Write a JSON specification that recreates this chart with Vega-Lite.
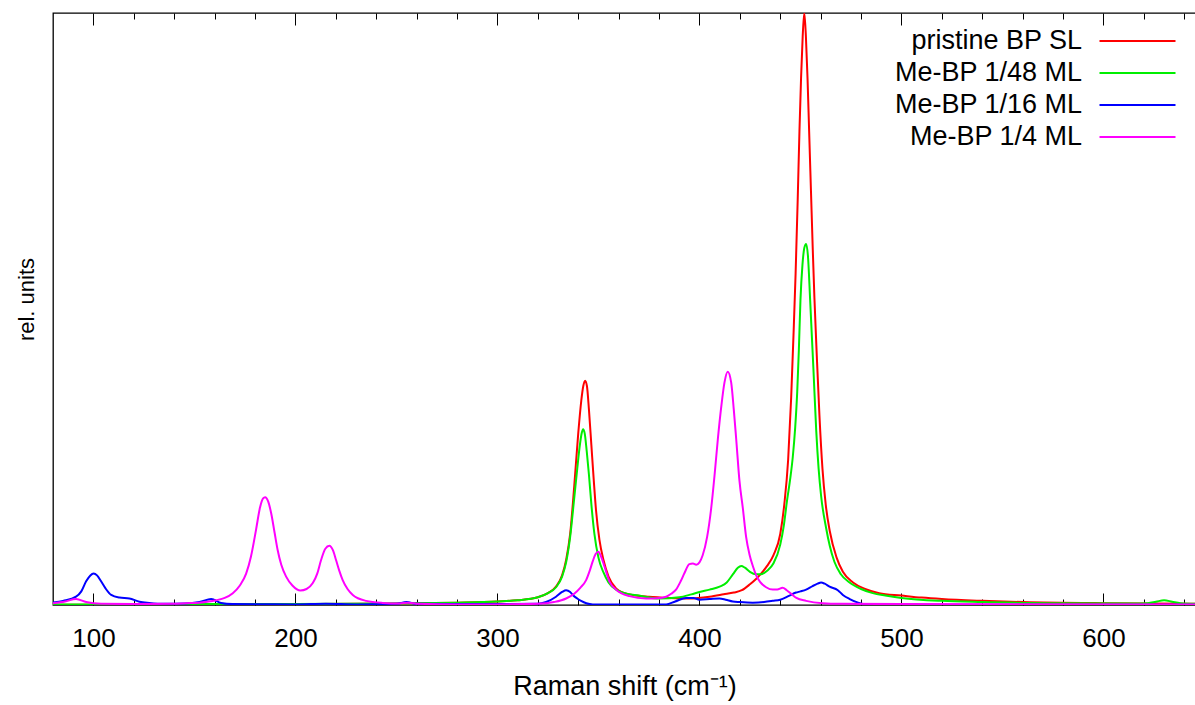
{
  "$schema": "https://vega.github.io/schema/vega-lite/v6.json",
  "width": 1143,
  "height": 592,
  "autosize": {"type": "none"},
  "padding": {"left": 53, "top": 13, "right": 0, "bottom": 100},
  "background": "white",
  "config": {
    "font": "Liberation Sans",
    "view": {"stroke": "#000", "strokeWidth": 1.3},
    "axis": {"grid": false, "domain": false}
  },
  "datasets": {
    "spectra": [
      {"series":"pristine BP SL","shift":80,"intensity":0.05},
      {"series":"pristine BP SL","shift":100,"intensity":0.05},
      {"series":"pristine BP SL","shift":150,"intensity":0.1},
      {"series":"pristine BP SL","shift":200,"intensity":0.15},
      {"series":"pristine BP SL","shift":250,"intensity":0.25},
      {"series":"pristine BP SL","shift":280,"intensity":0.4},
      {"series":"pristine BP SL","shift":300,"intensity":0.6},
      {"series":"pristine BP SL","shift":310,"intensity":0.8},
      {"series":"pristine BP SL","shift":320,"intensity":1.3},
      {"series":"pristine BP SL","shift":325,"intensity":2.0},
      {"series":"pristine BP SL","shift":329,"intensity":3.1},
      {"series":"pristine BP SL","shift":332,"intensity":5.0},
      {"series":"pristine BP SL","shift":334,"intensity":7.6},
      {"series":"pristine BP SL","shift":336,"intensity":12},
      {"series":"pristine BP SL","shift":338,"intensity":20},
      {"series":"pristine BP SL","shift":340,"intensity":29},
      {"series":"pristine BP SL","shift":341.5,"intensity":34.5},
      {"series":"pristine BP SL","shift":342.5,"intensity":37},
      {"series":"pristine BP SL","shift":343.4,"intensity":37.9},
      {"series":"pristine BP SL","shift":344.3,"intensity":37},
      {"series":"pristine BP SL","shift":345.3,"intensity":33},
      {"series":"pristine BP SL","shift":346.5,"intensity":27},
      {"series":"pristine BP SL","shift":347.7,"intensity":21},
      {"series":"pristine BP SL","shift":348.8,"intensity":16},
      {"series":"pristine BP SL","shift":350.5,"intensity":11},
      {"series":"pristine BP SL","shift":352.5,"intensity":7.6},
      {"series":"pristine BP SL","shift":355,"intensity":4.8},
      {"series":"pristine BP SL","shift":358.7,"intensity":2.8},
      {"series":"pristine BP SL","shift":363,"intensity":2.0},
      {"series":"pristine BP SL","shift":367,"intensity":1.7},
      {"series":"pristine BP SL","shift":375,"intensity":1.4},
      {"series":"pristine BP SL","shift":385,"intensity":1.2},
      {"series":"pristine BP SL","shift":395,"intensity":1.1},
      {"series":"pristine BP SL","shift":405,"intensity":1.4},
      {"series":"pristine BP SL","shift":412,"intensity":1.8},
      {"series":"pristine BP SL","shift":417,"intensity":2.1},
      {"series":"pristine BP SL","shift":421,"intensity":2.5},
      {"series":"pristine BP SL","shift":425,"intensity":3.5},
      {"series":"pristine BP SL","shift":428,"intensity":4.4},
      {"series":"pristine BP SL","shift":430.5,"intensity":5.3},
      {"series":"pristine BP SL","shift":433.5,"intensity":6.6},
      {"series":"pristine BP SL","shift":436.6,"intensity":8.4},
      {"series":"pristine BP SL","shift":440,"intensity":12},
      {"series":"pristine BP SL","shift":442,"intensity":17},
      {"series":"pristine BP SL","shift":443.9,"intensity":24.5},
      {"series":"pristine BP SL","shift":445.4,"intensity":35},
      {"series":"pristine BP SL","shift":446.6,"intensity":46},
      {"series":"pristine BP SL","shift":447.6,"intensity":56},
      {"series":"pristine BP SL","shift":448.6,"intensity":68},
      {"series":"pristine BP SL","shift":449.5,"intensity":80},
      {"series":"pristine BP SL","shift":450.3,"intensity":89},
      {"series":"pristine BP SL","shift":451.1,"intensity":96},
      {"series":"pristine BP SL","shift":451.9,"intensity":100},
      {"series":"pristine BP SL","shift":452.7,"intensity":96},
      {"series":"pristine BP SL","shift":453.5,"intensity":89},
      {"series":"pristine BP SL","shift":454.3,"intensity":80},
      {"series":"pristine BP SL","shift":455.2,"intensity":70},
      {"series":"pristine BP SL","shift":456.1,"intensity":60},
      {"series":"pristine BP SL","shift":456.9,"intensity":52},
      {"series":"pristine BP SL","shift":458.1,"intensity":42},
      {"series":"pristine BP SL","shift":459.4,"intensity":32},
      {"series":"pristine BP SL","shift":460.9,"intensity":23},
      {"series":"pristine BP SL","shift":462.5,"intensity":17},
      {"series":"pristine BP SL","shift":464.5,"intensity":12.5},
      {"series":"pristine BP SL","shift":467.9,"intensity":8},
      {"series":"pristine BP SL","shift":471,"intensity":5.6},
      {"series":"pristine BP SL","shift":476,"intensity":3.8},
      {"series":"pristine BP SL","shift":482,"intensity":2.7},
      {"series":"pristine BP SL","shift":489,"intensity":2.0},
      {"series":"pristine BP SL","shift":500,"intensity":1.6},
      {"series":"pristine BP SL","shift":510,"intensity":1.25},
      {"series":"pristine BP SL","shift":520,"intensity":1.0},
      {"series":"pristine BP SL","shift":540,"intensity":0.7},
      {"series":"pristine BP SL","shift":560,"intensity":0.5},
      {"series":"pristine BP SL","shift":600,"intensity":0.3},
      {"series":"pristine BP SL","shift":645.8,"intensity":0.2},

      {"series":"Me-BP 1/48 ML","shift":80,"intensity":0.1},
      {"series":"Me-BP 1/48 ML","shift":100,"intensity":0.1},
      {"series":"Me-BP 1/48 ML","shift":150,"intensity":0.15},
      {"series":"Me-BP 1/48 ML","shift":200,"intensity":0.15},
      {"series":"Me-BP 1/48 ML","shift":250,"intensity":0.25},
      {"series":"Me-BP 1/48 ML","shift":280,"intensity":0.4},
      {"series":"Me-BP 1/48 ML","shift":300,"intensity":0.6},
      {"series":"Me-BP 1/48 ML","shift":310,"intensity":0.8},
      {"series":"Me-BP 1/48 ML","shift":320,"intensity":1.3},
      {"series":"Me-BP 1/48 ML","shift":325,"intensity":2.0},
      {"series":"Me-BP 1/48 ML","shift":329,"intensity":3.0},
      {"series":"Me-BP 1/48 ML","shift":332,"intensity":4.8},
      {"series":"Me-BP 1/48 ML","shift":334,"intensity":7.2},
      {"series":"Me-BP 1/48 ML","shift":336,"intensity":11.5},
      {"series":"Me-BP 1/48 ML","shift":338,"intensity":18},
      {"series":"Me-BP 1/48 ML","shift":339.5,"intensity":23},
      {"series":"Me-BP 1/48 ML","shift":340.8,"intensity":27},
      {"series":"Me-BP 1/48 ML","shift":341.7,"intensity":29},
      {"series":"Me-BP 1/48 ML","shift":342.4,"intensity":29.7},
      {"series":"Me-BP 1/48 ML","shift":343.2,"intensity":29},
      {"series":"Me-BP 1/48 ML","shift":344.2,"intensity":26},
      {"series":"Me-BP 1/48 ML","shift":345.3,"intensity":22},
      {"series":"Me-BP 1/48 ML","shift":346.5,"intensity":17},
      {"series":"Me-BP 1/48 ML","shift":348,"intensity":12},
      {"series":"Me-BP 1/48 ML","shift":350,"intensity":8},
      {"series":"Me-BP 1/48 ML","shift":352.5,"intensity":5.5},
      {"series":"Me-BP 1/48 ML","shift":355,"intensity":3.8},
      {"series":"Me-BP 1/48 ML","shift":358.7,"intensity":2.6},
      {"series":"Me-BP 1/48 ML","shift":363,"intensity":2.0},
      {"series":"Me-BP 1/48 ML","shift":370,"intensity":1.6},
      {"series":"Me-BP 1/48 ML","shift":380,"intensity":1.1},
      {"series":"Me-BP 1/48 ML","shift":390,"intensity":1.3},
      {"series":"Me-BP 1/48 ML","shift":396,"intensity":1.8},
      {"series":"Me-BP 1/48 ML","shift":400,"intensity":2.2},
      {"series":"Me-BP 1/48 ML","shift":405,"intensity":2.6},
      {"series":"Me-BP 1/48 ML","shift":410,"intensity":3.1},
      {"series":"Me-BP 1/48 ML","shift":413.5,"intensity":3.8},
      {"series":"Me-BP 1/48 ML","shift":416.6,"intensity":5.2},
      {"series":"Me-BP 1/48 ML","shift":419,"intensity":6.3},
      {"series":"Me-BP 1/48 ML","shift":420.7,"intensity":6.6},
      {"series":"Me-BP 1/48 ML","shift":422.5,"intensity":6.3},
      {"series":"Me-BP 1/48 ML","shift":425,"intensity":5.6},
      {"series":"Me-BP 1/48 ML","shift":428,"intensity":5.2},
      {"series":"Me-BP 1/48 ML","shift":430.5,"intensity":5.2},
      {"series":"Me-BP 1/48 ML","shift":433.5,"intensity":5.8},
      {"series":"Me-BP 1/48 ML","shift":436.6,"intensity":7.0},
      {"series":"Me-BP 1/48 ML","shift":440,"intensity":10.2},
      {"series":"Me-BP 1/48 ML","shift":441.8,"intensity":13.5},
      {"series":"Me-BP 1/48 ML","shift":443.3,"intensity":17.5},
      {"series":"Me-BP 1/48 ML","shift":444.8,"intensity":21},
      {"series":"Me-BP 1/48 ML","shift":446.2,"intensity":25},
      {"series":"Me-BP 1/48 ML","shift":447.4,"intensity":30},
      {"series":"Me-BP 1/48 ML","shift":448.4,"intensity":36},
      {"series":"Me-BP 1/48 ML","shift":449.2,"intensity":43},
      {"series":"Me-BP 1/48 ML","shift":450,"intensity":51.5},
      {"series":"Me-BP 1/48 ML","shift":451,"intensity":57.5},
      {"series":"Me-BP 1/48 ML","shift":451.9,"intensity":60.3},
      {"series":"Me-BP 1/48 ML","shift":452.8,"intensity":61},
      {"series":"Me-BP 1/48 ML","shift":453.7,"intensity":59},
      {"series":"Me-BP 1/48 ML","shift":454.8,"intensity":51.5},
      {"series":"Me-BP 1/48 ML","shift":455.7,"intensity":45},
      {"series":"Me-BP 1/48 ML","shift":456.4,"intensity":40},
      {"series":"Me-BP 1/48 ML","shift":457.8,"intensity":29.5},
      {"series":"Me-BP 1/48 ML","shift":459,"intensity":23},
      {"series":"Me-BP 1/48 ML","shift":460.2,"intensity":18.5},
      {"series":"Me-BP 1/48 ML","shift":462.7,"intensity":13},
      {"series":"Me-BP 1/48 ML","shift":464.5,"intensity":10},
      {"series":"Me-BP 1/48 ML","shift":466.8,"intensity":7.3},
      {"series":"Me-BP 1/48 ML","shift":470,"intensity":5.2},
      {"series":"Me-BP 1/48 ML","shift":474.3,"intensity":3.8},
      {"series":"Me-BP 1/48 ML","shift":480,"intensity":2.7},
      {"series":"Me-BP 1/48 ML","shift":485.8,"intensity":2.0},
      {"series":"Me-BP 1/48 ML","shift":492,"intensity":1.6},
      {"series":"Me-BP 1/48 ML","shift":500,"intensity":1.2},
      {"series":"Me-BP 1/48 ML","shift":520,"intensity":0.7},
      {"series":"Me-BP 1/48 ML","shift":540,"intensity":0.5},
      {"series":"Me-BP 1/48 ML","shift":580,"intensity":0.3},
      {"series":"Me-BP 1/48 ML","shift":615,"intensity":0.25},
      {"series":"Me-BP 1/48 ML","shift":622,"intensity":0.3},
      {"series":"Me-BP 1/48 ML","shift":626,"intensity":0.55},
      {"series":"Me-BP 1/48 ML","shift":630,"intensity":0.8},
      {"series":"Me-BP 1/48 ML","shift":634,"intensity":0.55},
      {"series":"Me-BP 1/48 ML","shift":638,"intensity":0.3},
      {"series":"Me-BP 1/48 ML","shift":645.8,"intensity":0.2},

      {"series":"Me-BP 1/16 ML","shift":80,"intensity":0.4},
      {"series":"Me-BP 1/16 ML","shift":85,"intensity":0.7},
      {"series":"Me-BP 1/16 ML","shift":91.4,"intensity":1.4},
      {"series":"Me-BP 1/16 ML","shift":94,"intensity":2.3},
      {"series":"Me-BP 1/16 ML","shift":96.4,"intensity":4.0},
      {"series":"Me-BP 1/16 ML","shift":98.5,"intensity":5.0},
      {"series":"Me-BP 1/16 ML","shift":100.1,"intensity":5.3},
      {"series":"Me-BP 1/16 ML","shift":101.8,"intensity":5.0},
      {"series":"Me-BP 1/16 ML","shift":103.8,"intensity":4.0},
      {"series":"Me-BP 1/16 ML","shift":106,"intensity":2.8},
      {"series":"Me-BP 1/16 ML","shift":108.8,"intensity":1.7},
      {"series":"Me-BP 1/16 ML","shift":112.9,"intensity":1.25},
      {"series":"Me-BP 1/16 ML","shift":117.8,"intensity":1.1},
      {"series":"Me-BP 1/16 ML","shift":122.8,"intensity":0.55},
      {"series":"Me-BP 1/16 ML","shift":127.7,"intensity":0.35},
      {"series":"Me-BP 1/16 ML","shift":135,"intensity":0.2},
      {"series":"Me-BP 1/16 ML","shift":145,"intensity":0.25},
      {"series":"Me-BP 1/16 ML","shift":152.5,"intensity":0.5},
      {"series":"Me-BP 1/16 ML","shift":158.3,"intensity":1.0},
      {"series":"Me-BP 1/16 ML","shift":163.2,"intensity":0.35},
      {"series":"Me-BP 1/16 ML","shift":168.8,"intensity":0.15},
      {"series":"Me-BP 1/16 ML","shift":200,"intensity":0.1},
      {"series":"Me-BP 1/16 ML","shift":215,"intensity":0.2},
      {"series":"Me-BP 1/16 ML","shift":230,"intensity":0.1},
      {"series":"Me-BP 1/16 ML","shift":250,"intensity":0.2},
      {"series":"Me-BP 1/16 ML","shift":255,"intensity":0.5},
      {"series":"Me-BP 1/16 ML","shift":260,"intensity":0.2},
      {"series":"Me-BP 1/16 ML","shift":300,"intensity":0.15},
      {"series":"Me-BP 1/16 ML","shift":319.8,"intensity":0.2},
      {"series":"Me-BP 1/16 ML","shift":324.1,"intensity":0.5},
      {"series":"Me-BP 1/16 ML","shift":329,"intensity":1.4},
      {"series":"Me-BP 1/16 ML","shift":332,"intensity":2.2},
      {"series":"Me-BP 1/16 ML","shift":334,"intensity":2.5},
      {"series":"Me-BP 1/16 ML","shift":336,"intensity":2.2},
      {"series":"Me-BP 1/16 ML","shift":337.3,"intensity":1.7},
      {"series":"Me-BP 1/16 ML","shift":339.5,"intensity":1.1},
      {"series":"Me-BP 1/16 ML","shift":341.4,"intensity":0.7},
      {"series":"Me-BP 1/16 ML","shift":344,"intensity":0.3},
      {"series":"Me-BP 1/16 ML","shift":347.2,"intensity":0.1},
      {"series":"Me-BP 1/16 ML","shift":383.5,"intensity":0.1},
      {"series":"Me-BP 1/16 ML","shift":388,"intensity":0.6},
      {"series":"Me-BP 1/16 ML","shift":393.4,"intensity":1.2},
      {"series":"Me-BP 1/16 ML","shift":397,"intensity":1.2},
      {"series":"Me-BP 1/16 ML","shift":400,"intensity":0.9},
      {"series":"Me-BP 1/16 ML","shift":405,"intensity":1.0},
      {"series":"Me-BP 1/16 ML","shift":409.9,"intensity":1.1},
      {"series":"Me-BP 1/16 ML","shift":413,"intensity":0.9},
      {"series":"Me-BP 1/16 ML","shift":416.5,"intensity":0.6},
      {"series":"Me-BP 1/16 ML","shift":420,"intensity":0.5},
      {"series":"Me-BP 1/16 ML","shift":426.4,"intensity":0.4},
      {"series":"Me-BP 1/16 ML","shift":432,"intensity":0.5},
      {"series":"Me-BP 1/16 ML","shift":436.3,"intensity":0.7},
      {"series":"Me-BP 1/16 ML","shift":440,"intensity":0.9},
      {"series":"Me-BP 1/16 ML","shift":444,"intensity":1.5},
      {"series":"Me-BP 1/16 ML","shift":447.8,"intensity":2.1},
      {"series":"Me-BP 1/16 ML","shift":450,"intensity":2.3},
      {"series":"Me-BP 1/16 ML","shift":452.8,"intensity":2.6},
      {"series":"Me-BP 1/16 ML","shift":456,"intensity":3.2},
      {"series":"Me-BP 1/16 ML","shift":458.5,"intensity":3.6},
      {"series":"Me-BP 1/16 ML","shift":460.2,"intensity":3.8},
      {"series":"Me-BP 1/16 ML","shift":462,"intensity":3.6},
      {"series":"Me-BP 1/16 ML","shift":464.4,"intensity":3.1},
      {"series":"Me-BP 1/16 ML","shift":468.5,"intensity":2.5},
      {"series":"Me-BP 1/16 ML","shift":471,"intensity":1.7},
      {"series":"Me-BP 1/16 ML","shift":474.4,"intensity":1.0},
      {"series":"Me-BP 1/16 ML","shift":478.5,"intensity":0.4},
      {"series":"Me-BP 1/16 ML","shift":482.6,"intensity":0.1},
      {"series":"Me-BP 1/16 ML","shift":500,"intensity":0.05},
      {"series":"Me-BP 1/16 ML","shift":645.8,"intensity":0.05},

      {"series":"Me-BP 1/4 ML","shift":80,"intensity":0.3},
      {"series":"Me-BP 1/4 ML","shift":86,"intensity":0.6},
      {"series":"Me-BP 1/4 ML","shift":91.4,"intensity":1.0},
      {"series":"Me-BP 1/4 ML","shift":96.4,"intensity":0.5},
      {"series":"Me-BP 1/4 ML","shift":103.8,"intensity":0.2},
      {"series":"Me-BP 1/4 ML","shift":120,"intensity":0.15},
      {"series":"Me-BP 1/4 ML","shift":139.3,"intensity":0.2},
      {"series":"Me-BP 1/4 ML","shift":146,"intensity":0.3},
      {"series":"Me-BP 1/4 ML","shift":152.5,"intensity":0.4},
      {"series":"Me-BP 1/4 ML","shift":160.7,"intensity":0.8},
      {"series":"Me-BP 1/4 ML","shift":165,"intensity":1.2},
      {"series":"Me-BP 1/4 ML","shift":169,"intensity":2.0},
      {"series":"Me-BP 1/4 ML","shift":172.5,"intensity":3.3},
      {"series":"Me-BP 1/4 ML","shift":175.6,"intensity":5.3},
      {"series":"Me-BP 1/4 ML","shift":178,"intensity":8.2},
      {"series":"Me-BP 1/4 ML","shift":180.5,"intensity":12.7},
      {"series":"Me-BP 1/4 ML","shift":182.5,"intensity":16.5},
      {"series":"Me-BP 1/4 ML","shift":184,"intensity":18},
      {"series":"Me-BP 1/4 ML","shift":185,"intensity":18.2},
      {"series":"Me-BP 1/4 ML","shift":186.5,"intensity":17.5},
      {"series":"Me-BP 1/4 ML","shift":188,"intensity":15.5},
      {"series":"Me-BP 1/4 ML","shift":189.7,"intensity":12.2},
      {"series":"Me-BP 1/4 ML","shift":191.2,"intensity":9.3},
      {"series":"Me-BP 1/4 ML","shift":193,"intensity":6.8},
      {"series":"Me-BP 1/4 ML","shift":195.4,"intensity":4.8},
      {"series":"Me-BP 1/4 ML","shift":198.5,"intensity":3.3},
      {"series":"Me-BP 1/4 ML","shift":202.5,"intensity":2.45},
      {"series":"Me-BP 1/4 ML","shift":205.5,"intensity":2.7},
      {"series":"Me-BP 1/4 ML","shift":208.6,"intensity":3.7},
      {"series":"Me-BP 1/4 ML","shift":210.8,"intensity":5.3},
      {"series":"Me-BP 1/4 ML","shift":212.7,"intensity":7.6},
      {"series":"Me-BP 1/4 ML","shift":214.8,"intensity":9.5},
      {"series":"Me-BP 1/4 ML","shift":216.8,"intensity":10.0},
      {"series":"Me-BP 1/4 ML","shift":218.5,"intensity":9.3},
      {"series":"Me-BP 1/4 ML","shift":220.1,"intensity":7.6},
      {"series":"Me-BP 1/4 ML","shift":221.7,"intensity":5.8},
      {"series":"Me-BP 1/4 ML","shift":223.4,"intensity":4.2},
      {"series":"Me-BP 1/4 ML","shift":225.8,"intensity":2.7},
      {"series":"Me-BP 1/4 ML","shift":228.4,"intensity":1.7},
      {"series":"Me-BP 1/4 ML","shift":235,"intensity":0.7},
      {"series":"Me-BP 1/4 ML","shift":243.2,"intensity":0.35},
      {"series":"Me-BP 1/4 ML","shift":251.5,"intensity":0.25},
      {"series":"Me-BP 1/4 ML","shift":256,"intensity":0.4},
      {"series":"Me-BP 1/4 ML","shift":261,"intensity":0.2},
      {"series":"Me-BP 1/4 ML","shift":280,"intensity":0.1},
      {"series":"Me-BP 1/4 ML","shift":300,"intensity":0.1},
      {"series":"Me-BP 1/4 ML","shift":320,"intensity":0.2},
      {"series":"Me-BP 1/4 ML","shift":328,"intensity":0.5},
      {"series":"Me-BP 1/4 ML","shift":334,"intensity":1.1},
      {"series":"Me-BP 1/4 ML","shift":338,"intensity":1.9},
      {"series":"Me-BP 1/4 ML","shift":341,"intensity":2.9},
      {"series":"Me-BP 1/4 ML","shift":343.9,"intensity":4.2},
      {"series":"Me-BP 1/4 ML","shift":345.7,"intensity":5.8},
      {"series":"Me-BP 1/4 ML","shift":347.2,"intensity":7.4},
      {"series":"Me-BP 1/4 ML","shift":348.6,"intensity":8.6},
      {"series":"Me-BP 1/4 ML","shift":350,"intensity":9.0},
      {"series":"Me-BP 1/4 ML","shift":351.5,"intensity":8.0},
      {"series":"Me-BP 1/4 ML","shift":353,"intensity":6.5},
      {"series":"Me-BP 1/4 ML","shift":355.4,"intensity":4.0},
      {"series":"Me-BP 1/4 ML","shift":358.7,"intensity":2.6},
      {"series":"Me-BP 1/4 ML","shift":365.3,"intensity":1.5},
      {"series":"Me-BP 1/4 ML","shift":373.6,"intensity":1.1},
      {"series":"Me-BP 1/4 ML","shift":379,"intensity":1.15},
      {"series":"Me-BP 1/4 ML","shift":383.5,"intensity":1.4},
      {"series":"Me-BP 1/4 ML","shift":386,"intensity":1.9},
      {"series":"Me-BP 1/4 ML","shift":388.4,"intensity":2.6},
      {"series":"Me-BP 1/4 ML","shift":390.7,"intensity":4.0},
      {"series":"Me-BP 1/4 ML","shift":392.6,"intensity":5.4},
      {"series":"Me-BP 1/4 ML","shift":395,"intensity":6.9},
      {"series":"Me-BP 1/4 ML","shift":396.8,"intensity":7.0},
      {"series":"Me-BP 1/4 ML","shift":398.4,"intensity":6.8},
      {"series":"Me-BP 1/4 ML","shift":400,"intensity":7.2},
      {"series":"Me-BP 1/4 ML","shift":401.6,"intensity":8.4},
      {"series":"Me-BP 1/4 ML","shift":403.8,"intensity":11.5},
      {"series":"Me-BP 1/4 ML","shift":405.8,"intensity":16.3},
      {"series":"Me-BP 1/4 ML","shift":407.5,"intensity":22},
      {"series":"Me-BP 1/4 ML","shift":409.1,"intensity":28},
      {"series":"Me-BP 1/4 ML","shift":410.8,"intensity":33.5},
      {"series":"Me-BP 1/4 ML","shift":412.4,"intensity":37.6},
      {"series":"Me-BP 1/4 ML","shift":414,"intensity":39.4},
      {"series":"Me-BP 1/4 ML","shift":415.7,"intensity":37.6},
      {"series":"Me-BP 1/4 ML","shift":417,"intensity":33},
      {"series":"Me-BP 1/4 ML","shift":418.2,"intensity":28},
      {"series":"Me-BP 1/4 ML","shift":419.8,"intensity":21},
      {"series":"Me-BP 1/4 ML","shift":421.5,"intensity":16.3},
      {"series":"Me-BP 1/4 ML","shift":423.1,"intensity":11.5},
      {"series":"Me-BP 1/4 ML","shift":424.8,"intensity":8.5},
      {"series":"Me-BP 1/4 ML","shift":426.5,"intensity":6.5},
      {"series":"Me-BP 1/4 ML","shift":428.1,"intensity":5.0},
      {"series":"Me-BP 1/4 ML","shift":430,"intensity":3.9},
      {"series":"Me-BP 1/4 ML","shift":433,"intensity":3.0},
      {"series":"Me-BP 1/4 ML","shift":436.3,"intensity":2.6},
      {"series":"Me-BP 1/4 ML","shift":438.5,"intensity":2.6},
      {"series":"Me-BP 1/4 ML","shift":441.2,"intensity":2.9},
      {"series":"Me-BP 1/4 ML","shift":443.2,"intensity":2.5},
      {"series":"Me-BP 1/4 ML","shift":445.4,"intensity":1.9},
      {"series":"Me-BP 1/4 ML","shift":448,"intensity":1.2},
      {"series":"Me-BP 1/4 ML","shift":452.8,"intensity":0.7},
      {"series":"Me-BP 1/4 ML","shift":461,"intensity":0.3},
      {"series":"Me-BP 1/4 ML","shift":470,"intensity":0.2},
      {"series":"Me-BP 1/4 ML","shift":500,"intensity":0.15},
      {"series":"Me-BP 1/4 ML","shift":645.8,"intensity":0.1}
    ]
  },
  "data": {"name": "spectra"},
  "resolve": {"axis": {"x": "independent"}},
  "layer": [
    {
      "mark": {"type": "point", "opacity": 0},
      "encoding": {
        "x": {
          "field": "shift",
          "type": "quantitative",
          "scale": {"domain": [80, 645.8], "nice": false, "zero": false},
          "axis": {
            "orient": "top",
            "values": [100,120,140,160,180,200,220,240,260,280,300,320,340,360,380,400,420,440,460,480,500,520,540,560,580,600,620,640],
            "labels": false,
            "title": null,
            "tickColor": "#000",
            "tickWidth": 1,
            "tickSize": {"condition": {"test": "datum.value % 100 === 0", "value": -12}, "value": -6}
          }
        }
      }
    },
    {
      "mark": {"type": "line", "strokeWidth": 2, "interpolate": "monotone", "clip": true},
      "encoding": {
        "x": {
          "field": "shift",
          "type": "quantitative",
          "scale": {"domain": [80, 645.8], "nice": false, "zero": false},
          "axis": {
            "orient": "bottom",
            "values": [100,120,140,160,180,200,220,240,260,280,300,320,340,360,380,400,420,440,460,480,500,520,540,560,580,600,620,640],
            "labelExpr": "datum.value % 100 === 0 ? datum.label : ''",
            "labelFontSize": 26,
            "labelColor": "#000",
            "labelPadding": 32,
            "labelFlush": false,
            "labelOverlap": false,
            "tickColor": "#000",
            "tickWidth": 1,
            "tickSize": {"condition": {"test": "datum.value % 100 === 0", "value": -12}, "value": -6},
            "title": "Raman shift (cm⁻¹)",
            "titleFontSize": 27,
            "titleFontWeight": "normal",
            "titleColor": "#000",
            "titleBaseline": "alphabetic",
            "titleY": 89
          }
        },
        "y": {
          "field": "intensity",
          "type": "quantitative",
          "scale": {"domain": [0, 100], "nice": false, "zero": true},
          "axis": {
            "title": "rel. units",
            "labels": false,
            "ticks": false,
            "titleFontSize": 22,
            "titleFontWeight": "normal",
            "titleColor": "#000",
            "titleBaseline": "alphabetic",
            "titleAlign": "center",
            "titleAngle": -90,
            "titleX": -20,
            "titleY": 286
          }
        },
        "color": {
          "field": "series",
          "type": "nominal",
          "scale": {
            "domain": ["pristine BP SL", "Me-BP 1/48 ML", "Me-BP 1/16 ML", "Me-BP 1/4 ML"],
            "range": ["#ff0000", "#00ee00", "#0000ff", "#ff00ff"]
          },
          "legend": {
            "orient": "none",
            "legendX": 1071,
            "legendY": 14.5,
            "title": null,
            "symbolType": "M-4,0H4",
            "symbolSize": 361,
            "symbolStrokeWidth": 2,
            "symbolFillColor": "transparent",
            "labelFontSize": 27,
            "labelColor": "#000",
            "labelAlign": "right",
            "labelOffset": -69,
            "labelLimit": 0,
            "rowPadding": 4,
            "padding": 0
          }
        }
      }
    }
  ]
}
